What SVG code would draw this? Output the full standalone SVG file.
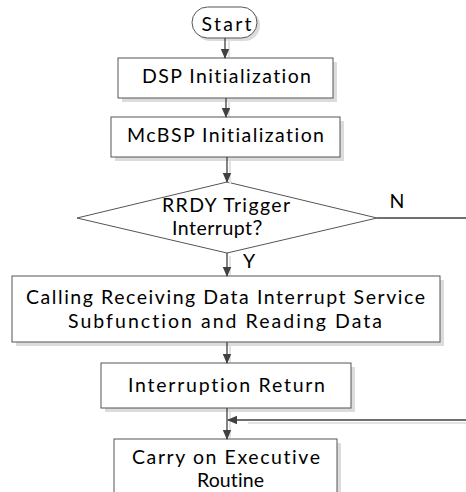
<svg xmlns="http://www.w3.org/2000/svg" width="466" height="492" viewBox="0 0 466 492">
<defs>
<marker id="ah" markerWidth="10" markerHeight="10" refX="9" refY="5" orient="auto" markerUnits="userSpaceOnUse">
<path d="M0,0.8 L10,5 L0,9.2 Z" fill="#404040"/>
</marker>
</defs>
<style>
.box{fill:#ffffff;stroke:#555555;stroke-width:1}
.sh{fill:#dcdcdc;stroke:none}
.t{font-family:Lato,"Open Sans","Noto Sans CJK SC",sans-serif;font-size:19.5px;fill:#000000;text-anchor:middle;font-variant-ligatures:none}
.c{fill:none;stroke:#404040;stroke-width:1.3}
.cs{fill:none;stroke:#e3e3e3;stroke-width:2}
</style>
<rect width="466" height="492" fill="#ffffff"/>
<g id="start">
<rect class="sh" x="195" y="10" width="65" height="31" rx="15.5"/>
<rect class="box" x="192" y="7" width="65" height="31" rx="15.5"/>
<text class="t" x="226.5" y="31" textLength="50" lengthAdjust="spacing">Start</text>
</g>
<g id="dsp">
<rect class="sh" x="122" y="62" width="215" height="40"/>
<rect class="box" x="118" y="58" width="215" height="40"/>
<text class="t" x="226.5" y="83" textLength="169" lengthAdjust="spacing">DSP Initialization</text>
</g>
<g id="mcbsp">
<rect class="sh" x="115" y="121" width="229" height="40"/>
<rect class="box" x="111" y="117" width="229" height="40"/>
<text class="t" x="225.5" y="142" textLength="197" lengthAdjust="spacing">McBSP Initialization</text>
</g>
<g id="rrdy">
<polygon class="box" points="227,182 377,218 227,253 77,218"/>
<text class="t" x="226" y="212" textLength="128" lengthAdjust="spacing">RRDY Trigger</text>
<text class="t" x="222" y="235" textLength="100" lengthAdjust="spacing">Interrupt？</text>
</g>
<g id="calling">
<rect class="sh" x="16" y="280" width="428" height="66"/>
<rect class="box" x="12" y="276" width="428" height="66"/>
<text class="t" x="225.5" y="304" textLength="399" lengthAdjust="spacing">Calling Receiving Data Interrupt Service</text>
<text class="t" x="225" y="328" textLength="314" lengthAdjust="spacing">Subfunction  and Reading Data</text>
</g>
<g id="iret">
<rect class="sh" x="105" y="367" width="250" height="45"/>
<rect class="box" x="101" y="363" width="250" height="45"/>
<text class="t" x="226.5" y="392" textLength="197" lengthAdjust="spacing">Interruption Return</text>
</g>
<g id="carry">
<rect class="sh" x="118" y="443" width="223" height="60"/>
<rect class="box" x="114" y="439" width="223" height="60"/>
<text class="t" x="226" y="464" textLength="188" lengthAdjust="spacing">Carry on Executive</text>
<text class="t" x="230.5" y="487" textLength="67" lengthAdjust="spacing">Routine</text>
</g>
<g id="connectors">
<line class="cs" x1="229" y1="40" x2="229" y2="57"/>
<line class="cs" x1="229" y1="100" x2="229" y2="116"/>
<line class="cs" x1="230" y1="161" x2="230" y2="184"/>
<line class="cs" x1="230" y1="256" x2="230" y2="275"/>
<line class="cs" x1="230" y1="346" x2="230" y2="362"/>
<line class="cs" x1="230" y1="412" x2="230" y2="438"/>
<line class="cs" x1="248" y1="423" x2="466" y2="423"/>
<line class="c" x1="225" y1="38" x2="225" y2="58" marker-end="url(#ah)"/>
<line class="c" x1="226" y1="98" x2="226" y2="117" marker-end="url(#ah)"/>
<line class="c" x1="227" y1="157" x2="227" y2="182" marker-end="url(#ah)"/>
<line class="c" x1="227" y1="253" x2="227" y2="276" marker-end="url(#ah)"/>
<line class="c" x1="377" y1="218" x2="466" y2="218"/>
<line class="c" x1="227" y1="342" x2="227" y2="363" marker-end="url(#ah)"/>
<line class="c" x1="227" y1="408" x2="227" y2="439" marker-end="url(#ah)"/>
<line class="c" x1="466" y1="420" x2="228" y2="420" marker-end="url(#ah)"/>
<text class="t" x="397" y="208">N</text>
<text class="t" x="249" y="268">Y</text>
</g>
</svg>
